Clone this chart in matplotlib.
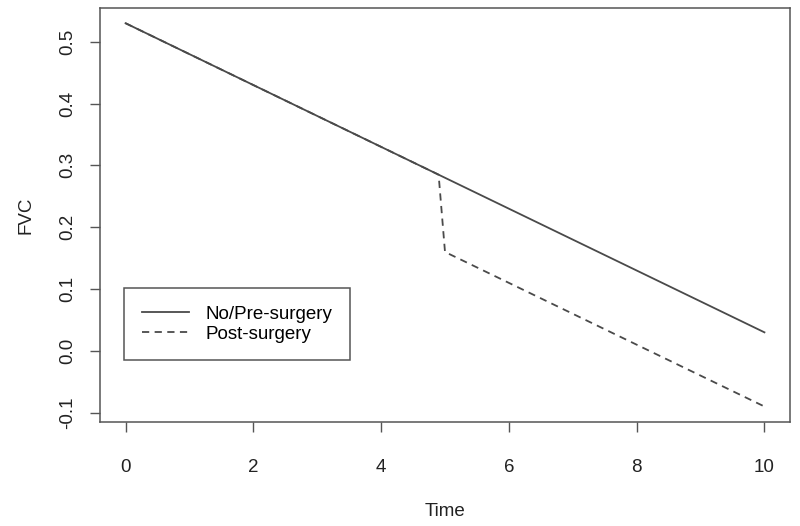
import matplotlib
matplotlib.use('Agg')
import matplotlib.pyplot as plt

plt.rcParams['font.family'] = ['Liberation Sans', 'DejaVu Sans']

# values
pre_time = [0, 10]
pre_fvc = [0.53, 0.03]
post_time = [0, 4.9, 5.0, 10]
post_fvc = [0.53, 0.285, 0.16, -0.09]
x_ticks = [0, 2, 4, 6, 8, 10]
y_ticks = [-0.1, 0.0, 0.1, 0.2, 0.3, 0.4, 0.5]
y_labels = ['-0.1', '0.0', '0.1', '0.2', '0.3', '0.4', '0.5']

fig = plt.figure(figsize=(8, 5.26), dpi=100)
ax = fig.add_axes([0.125, 0.198, 0.8625, 0.787])

line_col = '#4a4a4a'
ax.plot(pre_time, pre_fvc, color=line_col, lw=1.3, label='No/Pre-surgery')
ax.plot(post_time, post_fvc, color=line_col, lw=1.3, ls=(0, (4, 3)), label='Post-surgery')

ax.set_xlim(-0.4, 10.4)
ax.set_ylim(-0.1148, 0.5548)
ax.set_xticks(x_ticks)
ax.set_yticks(y_ticks)
ax.set_yticklabels(y_labels, rotation=90, va='center')
ax.tick_params(axis='both', direction='out', length=7, width=1, color='#555555',
               labelsize=13.5, labelcolor='#222222')
ax.tick_params(axis='x', pad=20)
ax.tick_params(axis='y', pad=10)
for s in ax.spines.values():
    s.set_color('#555555')
    s.set_linewidth(1.1)

ax.set_xlabel('Time', fontsize=13.5, color='#222222', labelpad=19)
ax.set_ylabel('FVC', fontsize=13.5, color='#222222', labelpad=18)

leg = ax.legend(loc='upper left', bbox_to_anchor=(0.035, 0.324), fontsize=13.5,
                fancybox=False, framealpha=1, edgecolor='#555555',
                handlelength=2.5, borderpad=0.95, labelspacing=0.15, handletextpad=0.9,
                borderaxespad=0)
leg.get_frame().set_linewidth(1.1)

fig.savefig('out.png', dpi=100)
